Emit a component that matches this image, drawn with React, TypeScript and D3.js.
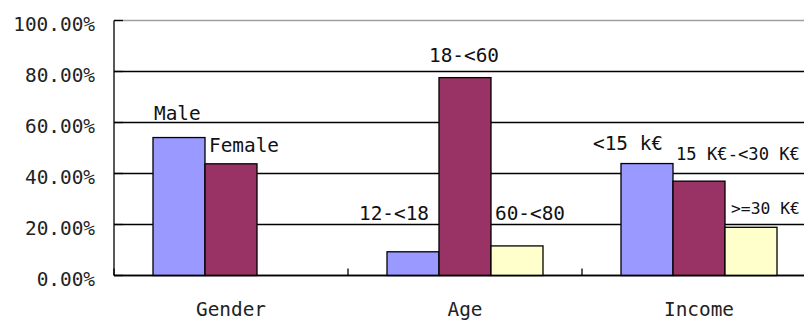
import React from "react";
import * as d3 from "d3";

const categories = ["Gender", "Age", "Income"];
const series1Values = [54.1, 9.3, 43.9];
const series2Values = [43.8, 77.6, 37.0];
const series3Values = [0, 11.6, 18.9];
const series1Labels = ["Male", "12-<18", "<15 k€"];
const series2Labels = ["Female", "18-<60", "15 K€-<30 K€"];
const series3Labels = ["", "60-<80", ">=30 K€"];
const yTicks = [0, 20, 40, 60, 80, 100];

// styling / layout (not data)
const colors = ["#9999FF", "#993366", "#FFFFCC"];
const labelDx = [
  [1, -28, -28],
  [4, -10, 3],
  [0, 4, 6],
];
const labelDy = [
  [-25, -39, -21],
  [-19, -23, -28],
  [0, -33, -20],
];

const W = 804;
const H = 321;
const FONT = "'DejaVu Sans Mono', 'Liberation Mono', monospace";
const FS = 19.4;
const ADV = 0.602;

export default function App() {
  const left = 114;
  const right = 816;
  const x = d3.scaleBand<string>().domain(categories).range([left, right]).paddingInner(0).paddingOuter(0);
  const xs = d3.scaleBand<number>().domain([0, 1, 2]).range([0, x.bandwidth()]).paddingInner(0).paddingOuter(0.75);
  const y = d3.scaleLinear().domain([0, 100]).range([275.5, 20.5]);
  const fmt = (v: number) => v.toFixed(2) + "%";

  const values = [series1Values, series2Values, series3Values];
  const labels = [series1Labels, series2Labels, series3Labels];
  const boundaries = [left, ...categories.map((c) => (x(c) as number) + x.bandwidth())];

  return (
    <svg
      width={W}
      height={H}
      style={{ position: "fixed", left: 0, top: 0, background: "#fff" }}
      fontFamily={FONT}
      fontSize={FS}
    >
      <rect x={0} y={0} width={W} height={H} fill="#fff" />
      {/* gridlines */}
      {yTicks.map((t) => (
        <line
          key={"g" + t}
          x1={left}
          x2={W}
          y1={y(t)}
          y2={y(t)}
          stroke={t === 100 ? "#a0a0a0" : "#000"}
          strokeWidth={1.3}
        />
      ))}
      {/* y ticks inward */}
      {yTicks.map((t) => (
        <line key={"yt" + t} x1={left} x2={left + 9} y1={y(t)} y2={y(t)} stroke="#000" strokeWidth={1.3} />
      ))}
      {/* y tick labels */}
      {yTicks.map((t) => (
        <text key={"yl" + t} x={95} y={y(t) + 10.6} textAnchor="end" fill="#222">
          {fmt(t)}
        </text>
      ))}
      {/* bars */}
      {categories.map((c, ci) =>
        values.map((vals, si) =>
          vals[ci] > 0 ? (
            <rect
              key={"b" + ci + "-" + si}
              x={(x(c) as number) + (xs(si) as number)}
              y={y(vals[ci])}
              width={xs.bandwidth()}
              height={y(0) - y(vals[ci])}
              fill={colors[si]}
              stroke="#000"
              strokeWidth={1.3}
            />
          ) : null
        )
      )}
      {/* axes */}
      <line x1={left} x2={left} y1={y(100)} y2={y(0)} stroke="#000" strokeWidth={1.3} />
      <line x1={left} x2={W} y1={y(0)} y2={y(0)} stroke="#000" strokeWidth={1.3} />
      {boundaries.map((b, i) => (
        <line key={"xt" + i} x1={b} x2={b} y1={y(0)} y2={y(0) - 7} stroke="#000" strokeWidth={1.3} />
      ))}
      {/* category labels */}
      {categories.map((c) => (
        <text key={"c" + c} x={(x(c) as number) + x.bandwidth() / 2} y={315.5} textAnchor="middle" fill="#222">
          {c}
        </text>
      ))}
      {/* data labels (series names) */}
      {categories.map((c, ci) =>
        labels.map((lab, si) => {
          if (!lab[ci]) return null;
          const lx = (x(c) as number) + (xs(si) as number) + labelDx[si][ci];
          const avail = W - 4 - lx;
          const fs = Math.min(FS, avail / (lab[ci].length * ADV));
          return (
            <text
              key={"l" + ci + "-" + si}
              x={lx}
              y={y(values[si][ci]) + labelDy[si][ci] + 7}
              textAnchor="start"
              fill="#111"
              fontSize={fs}
            >
              {lab[ci]}
            </text>
          );
        })
      )}
    </svg>
  );
}
